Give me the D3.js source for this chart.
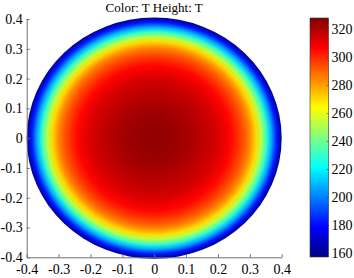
<!DOCTYPE html>
<head>
    <meta charset="utf-8">
    <title>Color: T Height: T</title>
    <style>
        body { margin: 0; background: #fff; }
        svg text { font-family: "Liberation Serif", "Times New Roman", Times, serif; fill: #000; }
    </style>
</head>
<body>
    <script src="https://d3js.org/d3.v7.min.js"></script>
    <script>

        // radial temperature profile (r in m, T)
        var radius = [0, 0.04, 0.08, 0.12, 0.16, 0.2, 0.24, 0.26, 0.28, 0.30, 0.32, 0.336, 0.352, 0.368, 0.384, 0.4];
        var temps  = [325, 324.5, 323, 320.5, 317, 313, 306, 300, 293, 284, 270, 252, 230, 207, 182, 160];

        var axisTicks = [-0.4, -0.3, -0.2, -0.1, 0, 0.1, 0.2, 0.3, 0.4];
        var cbarTicks = [160, 180, 200, 220, 240, 260, 280, 300, 320];
        var cbarRange = [157, 328];

        var width = 354, height = 278;
        var serif = '"Liberation Serif", "Times New Roman", Times, serif';

        var x = d3.scaleLinear().domain([-0.4, 0.4]).range([26.7, 281.7]);
        var y = d3.scaleLinear().domain([-0.4, 0.4]).range([257.3, 19]);

        // MATLAB jet colormap
        var jetStops = [0, 0.125, 0.375, 0.625, 0.875, 1];
        var jetColors = ['#000080', '#0000ff', '#00ffff', '#ffff00', '#ff0000', '#800000'];
        var frac = d3.scaleLinear().domain(cbarRange).range([0, 1]).clamp(true);
        var jet = d3.scaleLinear().domain(jetStops).range(jetColors).interpolate(d3.interpolateRgb);
        var color = function (t) { return jet(frac(t)); };

        var svg = d3.select('body').append('svg')
            .attr('width', width)
            .attr('height', height);

        var defs = svg.append('defs');

        // radial field
        var rOff = d3.scaleLinear().domain([0, 0.4]).range([0, 1]);
        var rg = defs.append('radialGradient').attr('id', 'field')
            .attr('cx', 0.5).attr('cy', 0.5).attr('r', 0.5);
        rg.selectAll('stop')
            .data(radius)
            .enter().append('stop')
            .attr('offset', function (d) { return rOff(d); })
            .attr('stop-color', function (d, i) { return color(temps[i]); });

        svg.append('ellipse')
            .attr('cx', x(0))
            .attr('cy', y(0))
            .attr('rx', x(0.4) - x(0))
            .attr('ry', y(0) - y(0.4) + 1.5)
            .attr('fill', 'url(#field)');

        // axes: left and bottom only, ticks inward
        var fmt = function (d) { return d === 0 ? '0' : d3.format('.1f')(d).replace('\u2212', '-'); };
        var xAxis = d3.axisBottom(x).tickValues(axisTicks).tickSizeInner(-3).tickSizeOuter(0)
            .tickFormat(fmt).tickPadding(7);
        var yAxis = d3.axisLeft(y).tickValues(axisTicks).tickSizeInner(-3).tickSizeOuter(0)
            .tickFormat(fmt).tickPadding(4);

        var gx = svg.append('g')
            .attr('transform', 'translate(0,' + y(-0.4) + ')')
            .call(xAxis);
        var gy = svg.append('g')
            .attr('transform', 'translate(' + x(-0.4) + ',0)')
            .call(yAxis);

        [gx, gy].forEach(function (g) {
            g.attr('font-family', null).attr('font-size', null);
            g.select('.domain').attr('stroke', '#6e6e6e');
            g.selectAll('.tick line').attr('stroke', '#6e6e6e');
            g.selectAll('.tick text').style('font-family', serif).style('font-size', '14px');
        });

        // title
        svg.append('text')
            .attr('x', x(0))
            .attr('y', 12)
            .attr('text-anchor', 'middle')
            .style('font-family', serif)
            .style('font-size', '13px')
            .text('Color: T Height: T');

        // colorbar
        var cb = d3.scaleLinear().domain(cbarRange).range([257, 18]);
        var lg = defs.append('linearGradient').attr('id', 'cbar')
            .attr('x1', 0).attr('y1', 1).attr('x2', 0).attr('y2', 0);
        lg.selectAll('stop')
            .data(jetStops)
            .enter().append('stop')
            .attr('offset', function (d) { return d; })
            .attr('stop-color', function (d, i) { return jetColors[i]; });

        var cbx = 310, cbw = 18.5;
        svg.append('rect')
            .attr('x', cbx)
            .attr('y', cb(cbarRange[1]))
            .attr('width', cbw)
            .attr('height', cb(cbarRange[0]) - cb(cbarRange[1]))
            .attr('fill', 'url(#cbar)')
            .attr('stroke', '#333')
            .attr('stroke-width', 0.6);

        var cAxis = d3.axisRight(cb).tickValues(cbarTicks).tickSizeInner(-2).tickSizeOuter(0).tickPadding(3);
        var gc = svg.append('g')
            .attr('transform', 'translate(' + (cbx + cbw) + ',0)')
            .call(cAxis);
        gc.attr('font-family', null).attr('font-size', null);
        gc.select('.domain').remove();
        gc.selectAll('.tick line').attr('stroke', '#333').attr('stroke-opacity', 0.5);
        gc.selectAll('.tick text').style('font-family', serif).style('font-size', '14px');

    </script>
</body>
